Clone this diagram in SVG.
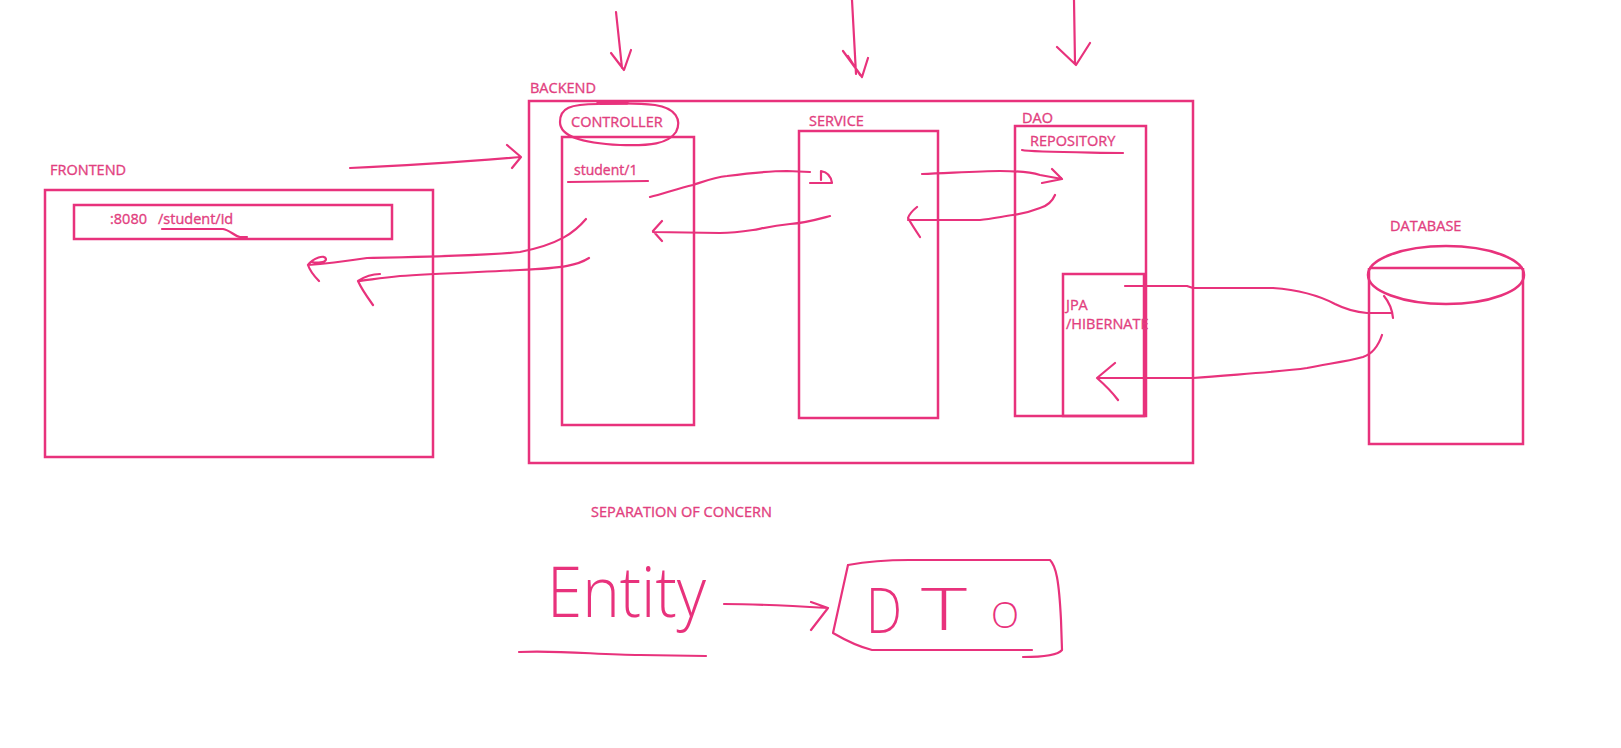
<svg xmlns="http://www.w3.org/2000/svg" width="1621" height="748" viewBox="0 0 1621 748">
<style>
.box{fill:none;stroke:#E8327C;stroke-width:2.5}
.ln{fill:none;stroke:#E8327C;stroke-width:2.2;stroke-linecap:round;stroke-linejoin:round}
.lbl{font-family:"Open Sans","Noto Sans",sans-serif;font-size:14.5px;fill:#E23F80;stroke:#E23F80;stroke-width:0.35}
.hand{font-family:"Open Sans","Noto Sans",sans-serif;font-weight:300;fill:#E8327C}
</style>
<rect width="1621" height="748" fill="#ffffff"/>

<g id="frontend">
<text class="lbl" x="50" y="175">FRONTEND</text>
<rect class="box" x="45" y="190" width="388" height="267"/>
<rect class="box" x="74" y="205" width="318" height="34"/>
<text class="lbl" x="110" y="224">:8080</text>
<text class="lbl" x="158" y="224">/student/id</text>
<path class="ln" d="M162,229 L223,229 C230,230 234,236 240,237 L247,237"/>
</g>

<g id="backend">
<text class="lbl" x="530" y="93">BACKEND</text>
<rect class="box" x="529" y="101" width="664" height="362"/>
</g>

<g id="controller">
<rect class="box" x="562" y="137" width="132" height="288"/>
<text class="lbl" x="571" y="127">CONTROLLER</text>
<path class="ln" d="M598,104 C570,104 560,108 560,122 C560,136 580,143 620,145 C650,146 668,144 676,132 C682,120 676,108 655,105 C640,103 620,103 600,104"/>
<path class="ln" d="M598,103 L627,103" style="stroke-width:3.5"/>
<text class="lbl" x="574" y="175" style="font-size:14px">student/1</text>
<path class="ln" d="M568,182 L648,181"/>
</g>

<g id="service">
<text class="lbl" x="809" y="126">SERVICE</text>
<rect class="box" x="799" y="131" width="139" height="287"/>
</g>

<g id="repository">
<text class="lbl" x="1022" y="123">DAO</text>
<rect class="box" x="1015" y="126" width="131" height="290"/>
<text class="lbl" x="1030" y="146">REPOSITORY</text>
<path class="ln" d="M1022,150 C1030,152 1060,152 1123,153"/>
</g>

<g id="jpa">
<rect class="box" x="1063" y="274" width="81" height="142"/>
<text class="lbl" x="1066" y="310">JPA</text>
<text class="lbl" x="1066" y="329">/HIBERNATE</text>
</g>

<g id="database">
<text class="lbl" x="1390" y="231">DATABASE</text>
<path class="box" d="M1369,268 L1369,444 L1523,444 L1523,268"/>
<ellipse class="box" cx="1446" cy="275" rx="78" ry="29"/>
<path class="box" d="M1369,268 L1523,268"/>
</g>

<g id="separation">
<text class="lbl" x="591" y="517">SEPARATION OF CONCERN</text>
</g>

<g id="entity">
<text class="hand" x="547" y="617" font-size="70" textLength="159" lengthAdjust="spacingAndGlyphs">Entity</text>
<path class="ln" d="M519,652 C560,650 600,655 640,655 L706,656"/>
</g>

<g id="dto">
<path class="ln" d="M848,565 C870,561 890,560 909,560 L1050,560 C1056,566 1059,580 1061,620 L1062,650 C1058,655 1045,657 1023,657"/>
<path class="ln" d="M848,565 L833,633 C845,640 860,647 872,650 L1032,650"/>
<text class="hand" x="866" y="633" font-size="62" textLength="36" lengthAdjust="spacingAndGlyphs">D</text>
<text class="hand" x="921" y="630" font-size="58" textLength="46" lengthAdjust="spacingAndGlyphs">T</text>
<text class="hand" x="991" y="628" font-size="36" textLength="28" lengthAdjust="spacingAndGlyphs">O</text>
</g>

<g id="connectors">
<path class="ln" d="M616,12 L622,68 M611,53 L624,70 L631,50"/>
<path class="ln" d="M852,0 L856,74 M843,51 L862,77 L868,58 M848,56 L860,75"/>
<path class="ln" d="M1074,0 L1075,63 M1057,47 L1076,65 L1090,43"/>
<path class="ln" d="M350,168 C400,166 450,163 521,157 M507,145 L521,157 L512,168"/>
<path class="ln" d="M586,219 C575,232 560,244 520,252 C480,256 420,257 367,258 C340,262 322,264 308,265 M308,265 C310,271 314,276 319,281 M308,265 C313,258 325,254 326,259 C326,263 316,263 312,262"/>
<path class="ln" d="M589,258 C578,265 565,268 520,270 C480,272 430,274 400,276 C380,278 368,280 358,281 M358,281 C364,277 372,274 380,274 M358,281 C362,290 368,298 373,305"/>
<path class="ln" d="M650,197 C665,193 680,188 693,185 C705,181 715,177 727,176 C750,173 770,171 787,171 L810,172 M810,183 L832,183 C831,176 827,172 821,171 L821,180"/>
<path class="ln" d="M830,216 C815,220 805,223 790,224 C770,226 760,229 753,230 C740,232 730,233 720,233 L653,232 M662,221 L653,231 L662,241"/>
<path class="ln" d="M922,174 C950,173 980,171 1000,171 C1020,171 1030,172 1040,175 L1062,179 M1052,169 L1062,179 L1042,183"/>
<path class="ln" d="M1055,195 C1052,202 1047,206 1040,208 C1030,212 1020,214 1013,215 C1000,217 990,219 980,220 L908,220 M917,207 C912,211 909,215 908,218 C912,225 916,231 920,237"/>
<path class="ln" d="M1125,286 L1187,286 L1193,288 L1273,288 C1300,290 1320,296 1335,304 C1345,309 1355,312 1367,313 L1392,313 M1384,296 C1389,302 1392,308 1393,318"/>
<path class="ln" d="M1382,335 C1378,347 1372,354 1363,357 C1345,362 1325,364 1307,368 C1280,372 1240,374 1193,378 L1097,378 M1115,363 L1097,378 C1105,385 1112,392 1118,400"/>
<path class="ln" d="M724,604 C760,604 795,606 828,608 M811,602 L828,608 L811,630"/>
</g>
</svg>
